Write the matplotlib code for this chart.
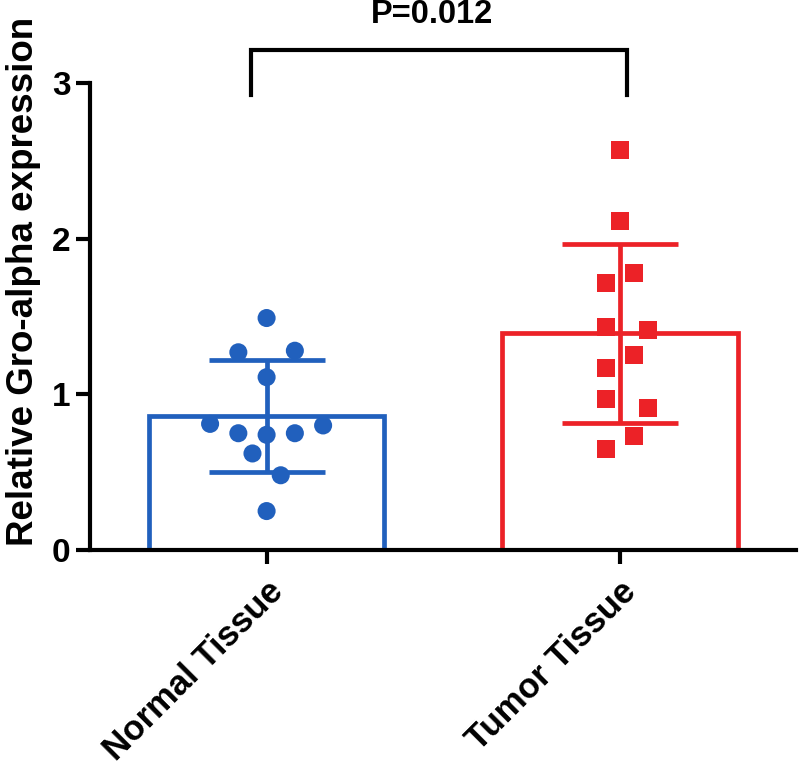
import numpy as np
import matplotlib
matplotlib.use("Agg")
import matplotlib.pyplot as plt

BLUE = "#2160bd"
RED = "#ec2227"
plt.rcParams["font.family"] = ["Liberation Sans", "DejaVu Sans"]
plt.rcParams["font.weight"] = "bold"

groups = ["Normal Tissue", "Tumor Tissue"]
normal_vals = [1.49, 1.27, 1.28, 1.11, 0.81, 0.80, 0.75, 0.74, 0.75, 0.62, 0.48, 0.25]
tumor_vals = [2.57, 2.115, 1.777, 1.717, 1.434, 1.413, 1.252, 1.167, 0.97, 0.91, 0.732, 0.647]
p_label = "P=0.012"
y_ticks = [0, 1, 2, 3]

# horizontal scatter offsets of each point (layout only)
normal_dx = [0, -0.08, 0.08, 0, -0.16, 0.16, -0.08, 0, 0.08, -0.04, 0.04, 0]
tumor_dx = [0, 0, 0.04, -0.04, -0.04, 0.08, 0.04, -0.04, -0.04, 0.08, 0.04, -0.04]

fig = plt.figure(figsize=(8, 7.66), dpi=100)
ax = fig.add_axes([0.1125, 0.282, 0.883, 0.6097])

series = [(normal_vals, normal_dx, BLUE, "o"), (tumor_vals, tumor_dx, RED, "s")]
for i, (vals, dx, col, mk) in enumerate(series):
    vals = np.array(vals)
    mean = vals.mean()
    sd = vals.std(ddof=1)
    ax.bar(i, mean, width=0.667, facecolor="white", edgecolor=col,
           linewidth=3.4, zorder=1)
    ax.errorbar(i, mean, yerr=sd, color=col, elinewidth=3.4, capsize=42,
                capthick=3.4, zorder=2)
    ax.scatter(i + np.array(dx), vals, s=13 ** 2, marker=mk, color=col,
               edgecolors="none", zorder=3)

# significance bracket
x0, x1 = -0.045, 1.02
ax.plot([x0, x0, x1, x1], [2.92, 3.21, 3.21, 2.92], color="black",
        lw=3, clip_on=False, solid_joinstyle="miter")
ax.text(0.467, 3.44, p_label, ha="center", va="center", fontsize=23.5,
        fontweight="bold")

ax.set_xlim(-0.5, 1.5)
ax.set_ylim(0, 3)
ax.set_yticks(y_ticks)
ax.set_xticks([0, 1])
ax.set_xticklabels(groups, rotation=45, ha="right", va="top",
                   rotation_mode="anchor", fontsize=25, fontweight="bold")
ax.tick_params(axis="y", labelsize=24, width=3, length=10, pad=4)
ax.tick_params(axis="x", width=3, length=10, pad=8)
ax.set_ylabel("Relative Gro-alpha expression", fontsize=26.5,
              fontweight="bold")
ax.yaxis.set_label_coords(-0.07, 0.574)
for s in ["top", "right"]:
    ax.spines[s].set_visible(False)
for s in ["left", "bottom"]:
    ax.spines[s].set_linewidth(3)

fig.savefig("out.png", dpi=100)
